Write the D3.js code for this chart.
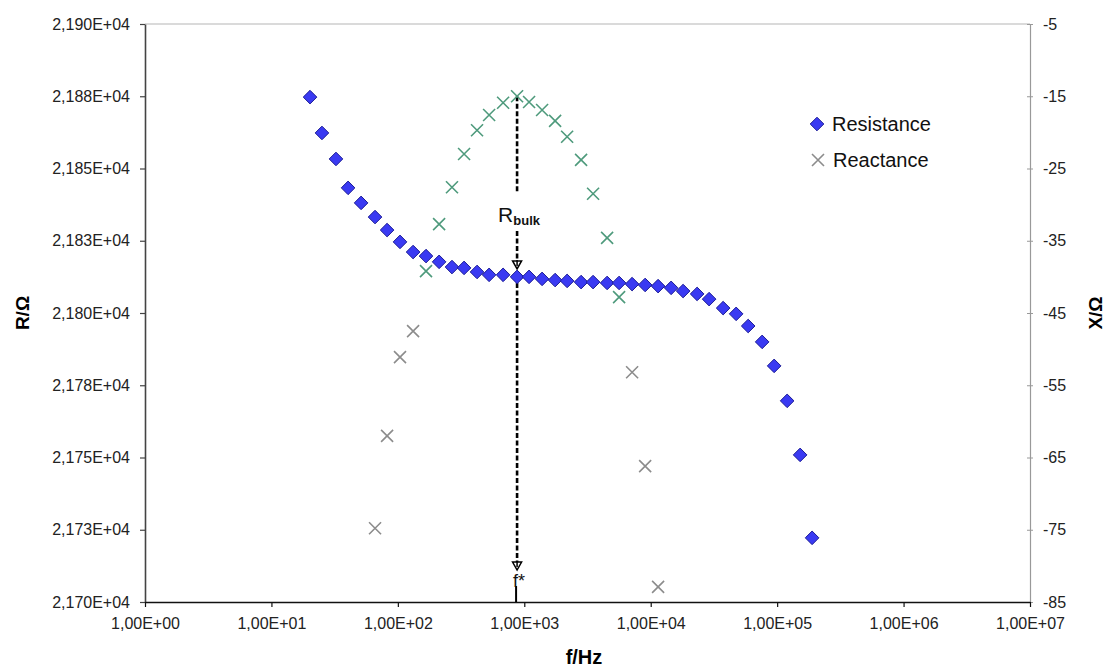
<!DOCTYPE html>
<html><head><meta charset="utf-8">
<script src="https://cdn.jsdelivr.net/npm/d3@7"></script>
<style>
body{margin:0;background:#fff}
text{font-family:"Liberation Sans",Arial,sans-serif}
</style>
</head><body>
<svg id="c" width="1109" height="667"></svg>
<script>
// ---- data ----
const freqHz = [20.2, 25.1, 32.4, 40.4, 51.2, 66.0, 82.2, 104, 132, 167, 212, 268, 334, 423, 527, 680, 877, 1091, 1383, 1753, 2182, 2814, 3501, 4520, 5623, 7126, 9036, 11440, 14500, 18040, 23280, 28980, 37400, 47400, 59000, 76100, 94700, 120000, 152000, 189000];
const resistance = [21874.7, 21862.3, 21853.3, 21843.3, 21838.1, 21833.2, 21828.7, 21824.6, 21821.1, 21819.7, 21817.7, 21815.9, 21815.6, 21814.2, 21813.2, 21813.2, 21812.5, 21812.5, 21811.8, 21811.4, 21811.1, 21810.7, 21810.7, 21810.4, 21810.4, 21810.0, 21809.7, 21809.3, 21808.7, 21807.6, 21806.6, 21804.8, 21801.7, 21799.7, 21795.5, 21790.0, 21781.7, 21769.6, 21750.9, 21722.2];
const reactance = [null, null, null, null, null, -74.8, -62.0, -51.1, -47.5, -39.2, -32.7, -27.6, -23.0, -19.7, -17.6, -15.9, -15.0, -15.8, -16.9, -18.4, -20.6, -23.8, -28.5, -34.6, -42.8, -53.2, -66.2, -82.9, null, null, null, null, null, null, null, null, null, null, null, null];
const xTicks = [1, 10, 100, 1000, 1e4, 1e5, 1e6, 1e7];
const xTickLabels = ["1,00E+00", "1,00E+01", "1,00E+02", "1,00E+03", "1,00E+04", "1,00E+05", "1,00E+06", "1,00E+07"];
const rTicks = [21700, 21725, 21750, 21775, 21800, 21825, 21850, 21875, 21900];
const rTickLabels = ["2,170E+04", "2,173E+04", "2,175E+04", "2,178E+04", "2,180E+04", "2,183E+04", "2,185E+04", "2,188E+04", "2,190E+04"];
const xTicksRight = [-85, -75, -65, -55, -45, -35, -25, -15, -5];
const xTickRightLabels = ["-85", "-75", "-65", "-55", "-45", "-35", "-25", "-15", "-5"];
const seriesNames = ["Resistance", "Reactance"];
const fStar = 877;

// ---- layout ----
const svg = d3.select("#c");
const L = 145, R = 1030, T = 24, B = 602;
const x = d3.scaleLog().domain([1, 1e7]).range([L, R]);
const yR = d3.scaleLinear().domain([21700, 21900]).range([B, T]);
const yX = d3.scaleLinear().domain([-85, -5]).range([B, T]);

const FONT = '"Liberation Sans",Arial,sans-serif';

// top border
svg.append("line").attr("x1", L).attr("x2", R).attr("y1", T).attr("y2", T)
  .attr("stroke", "#b5b5b5").attr("stroke-width", 1);

// left axis
const gL = svg.append("g").attr("transform", `translate(${L},0)`)
  .call(d3.axisLeft(yR).tickValues(rTicks).tickFormat((d, i) => rTickLabels[i])
    .tickSize(5).tickSizeOuter(0).tickPadding(10));
gL.select(".domain").attr("stroke", "#444").attr("stroke-width", 1.6);
gL.selectAll(".tick line").attr("stroke", "#444").attr("stroke-width", 1.2);
gL.selectAll("text").attr("font-family", FONT).attr("font-size", 16).attr("fill", "#222");

// right axis
const gR = svg.append("g").attr("transform", `translate(${R},0)`)
  .call(d3.axisRight(yX).tickValues(xTicksRight).tickFormat((d, i) => xTickRightLabels[i])
    .tickSize(3).tickSizeOuter(0).tickPadding(10));
gR.select(".domain").attr("stroke", "#999").attr("stroke-width", 1.2);
gR.selectAll(".tick line").attr("x1", -3).attr("x2", 3).attr("stroke", "#999");
gR.selectAll("text").attr("font-family", FONT).attr("font-size", 16).attr("fill", "#222");

// bottom axis
const gB = svg.append("g").attr("transform", `translate(0,${B})`)
  .call(d3.axisBottom(x).tickValues(xTicks).tickFormat((d, i) => xTickLabels[i])
    .tickSize(5).tickSizeOuter(0).tickPadding(11));
gB.select(".domain").attr("stroke", "#111").attr("stroke-width", 1.6);
gB.selectAll(".tick line").attr("stroke", "#111").attr("stroke-width", 1.2);
gB.selectAll("text").attr("font-family", FONT).attr("font-size", 16).attr("fill", "#222");

// axis titles
svg.append("text").attr("transform", `translate(29,${(T + B) / 2}) rotate(-90)`)
  .attr("text-anchor", "middle").attr("font-size", 19).attr("font-weight", "bold").text("R/Ω");
svg.append("text").attr("transform", `translate(1102,${(T + B) / 2}) rotate(-90)`)
  .attr("text-anchor", "middle").attr("font-size", 19).attr("font-weight", "bold").text("X/Ω");
svg.append("text").attr("x", 584).attr("y", 664)
  .attr("text-anchor", "middle").attr("font-size", 20).attr("font-weight", "bold").text("f/Hz");

// markers
const diamond = s => `M0,${-s}L${s},0L0,${s}L${-s},0Z`;
const cross = s => `M${-s},${-s}L${s},${s}M${-s},${s}L${s},${-s}`;
const DIA_FILL = "#3a3af2", DIA_STROKE = "#1d1d96";
const crossColor = v => v > -45 ? "#4e9a7c" : "#8c8c8c";

const rData = freqHz.map((f, i) => ({ f, v: resistance[i] }));
const xData = freqHz.map((f, i) => ({ f, v: reactance[i] })).filter(d => d.v !== null);

// annotation (dashed arrows) behind markers
const ax = x(fStar);
const yPeak = yX(d3.max(xData, d => d.v));
const yRf = yR(resistance[freqHz.indexOf(fStar)]);
const dash = { stroke: "#000", "stroke-width": 2.6, "stroke-dasharray": "5,2.5" };
function dashed(y1, y2) {
  const l = svg.append("line").attr("x1", ax).attr("x2", ax).attr("y1", y1).attr("y2", y2);
  Object.entries(dash).forEach(([k, v]) => l.attr(k, v));
}
function arrowHead(yTip) {
  svg.append("path").attr("d", `M${ax - 4.5},${yTip - 8}L${ax + 4.5},${yTip - 8}L${ax},${yTip}Z`)
    .attr("fill", "#fff").attr("stroke", "#000").attr("stroke-width", 1.5);
  svg.append("line").attr("x1", ax).attr("x2", ax).attr("y1", yTip - 9).attr("y2", yTip - 3)
    .attr("stroke", "#000").attr("stroke-width", 1.5);
}
dashed(yPeak, 193);
dashed(231, yRf - 9);
arrowHead(yRf - 8);
dashed(yRf + 6, B - 34);
arrowHead(B - 32);
svg.append("line").attr("x1", ax - 1).attr("x2", ax - 1).attr("y1", 586).attr("y2", B)
  .attr("stroke", "#000").attr("stroke-width", 2);

const rb = svg.append("text").attr("x", ax - 19).attr("y", 222).attr("font-size", 21).attr("fill", "#111");
rb.append("tspan").text("R");
rb.append("tspan").attr("font-size", 13).attr("font-weight", "bold").attr("dy", 3).text("bulk");

svg.append("text").attr("x", ax - 4).attr("y", 587).attr("font-size", 18).attr("fill", "#111")
  .text("f*");

// resistance diamonds
svg.append("g").selectAll("path").data(rData).join("path")
  .attr("transform", d => `translate(${x(d.f)},${yR(d.v)})`)
  .attr("d", diamond(6.8)).attr("fill", DIA_FILL).attr("stroke", DIA_STROKE).attr("stroke-width", 1);

// reactance crosses
svg.append("g").selectAll("path").data(xData).join("path")
  .attr("transform", d => `translate(${x(d.f)},${yX(d.v)})`)
  .attr("d", cross(6)).attr("fill", "none").attr("stroke", d => crossColor(d.v)).attr("stroke-width", 1.6);

// legend
const lg = svg.append("g");
lg.append("path").attr("transform", "translate(817,124)").attr("d", diamond(6.8))
  .attr("fill", DIA_FILL).attr("stroke", DIA_STROKE).attr("stroke-width", 1);
lg.append("text").attr("x", 832).attr("y", 131).attr("font-size", 20).attr("fill", "#111").text(seriesNames[0]);
lg.append("path").attr("transform", "translate(818,160)").attr("d", cross(6))
  .attr("fill", "none").attr("stroke", "#8c8c8c").attr("stroke-width", 1.6);
lg.append("text").attr("x", 833).attr("y", 167).attr("font-size", 20).attr("fill", "#111").text(seriesNames[1]);
</script>
</body></html>
